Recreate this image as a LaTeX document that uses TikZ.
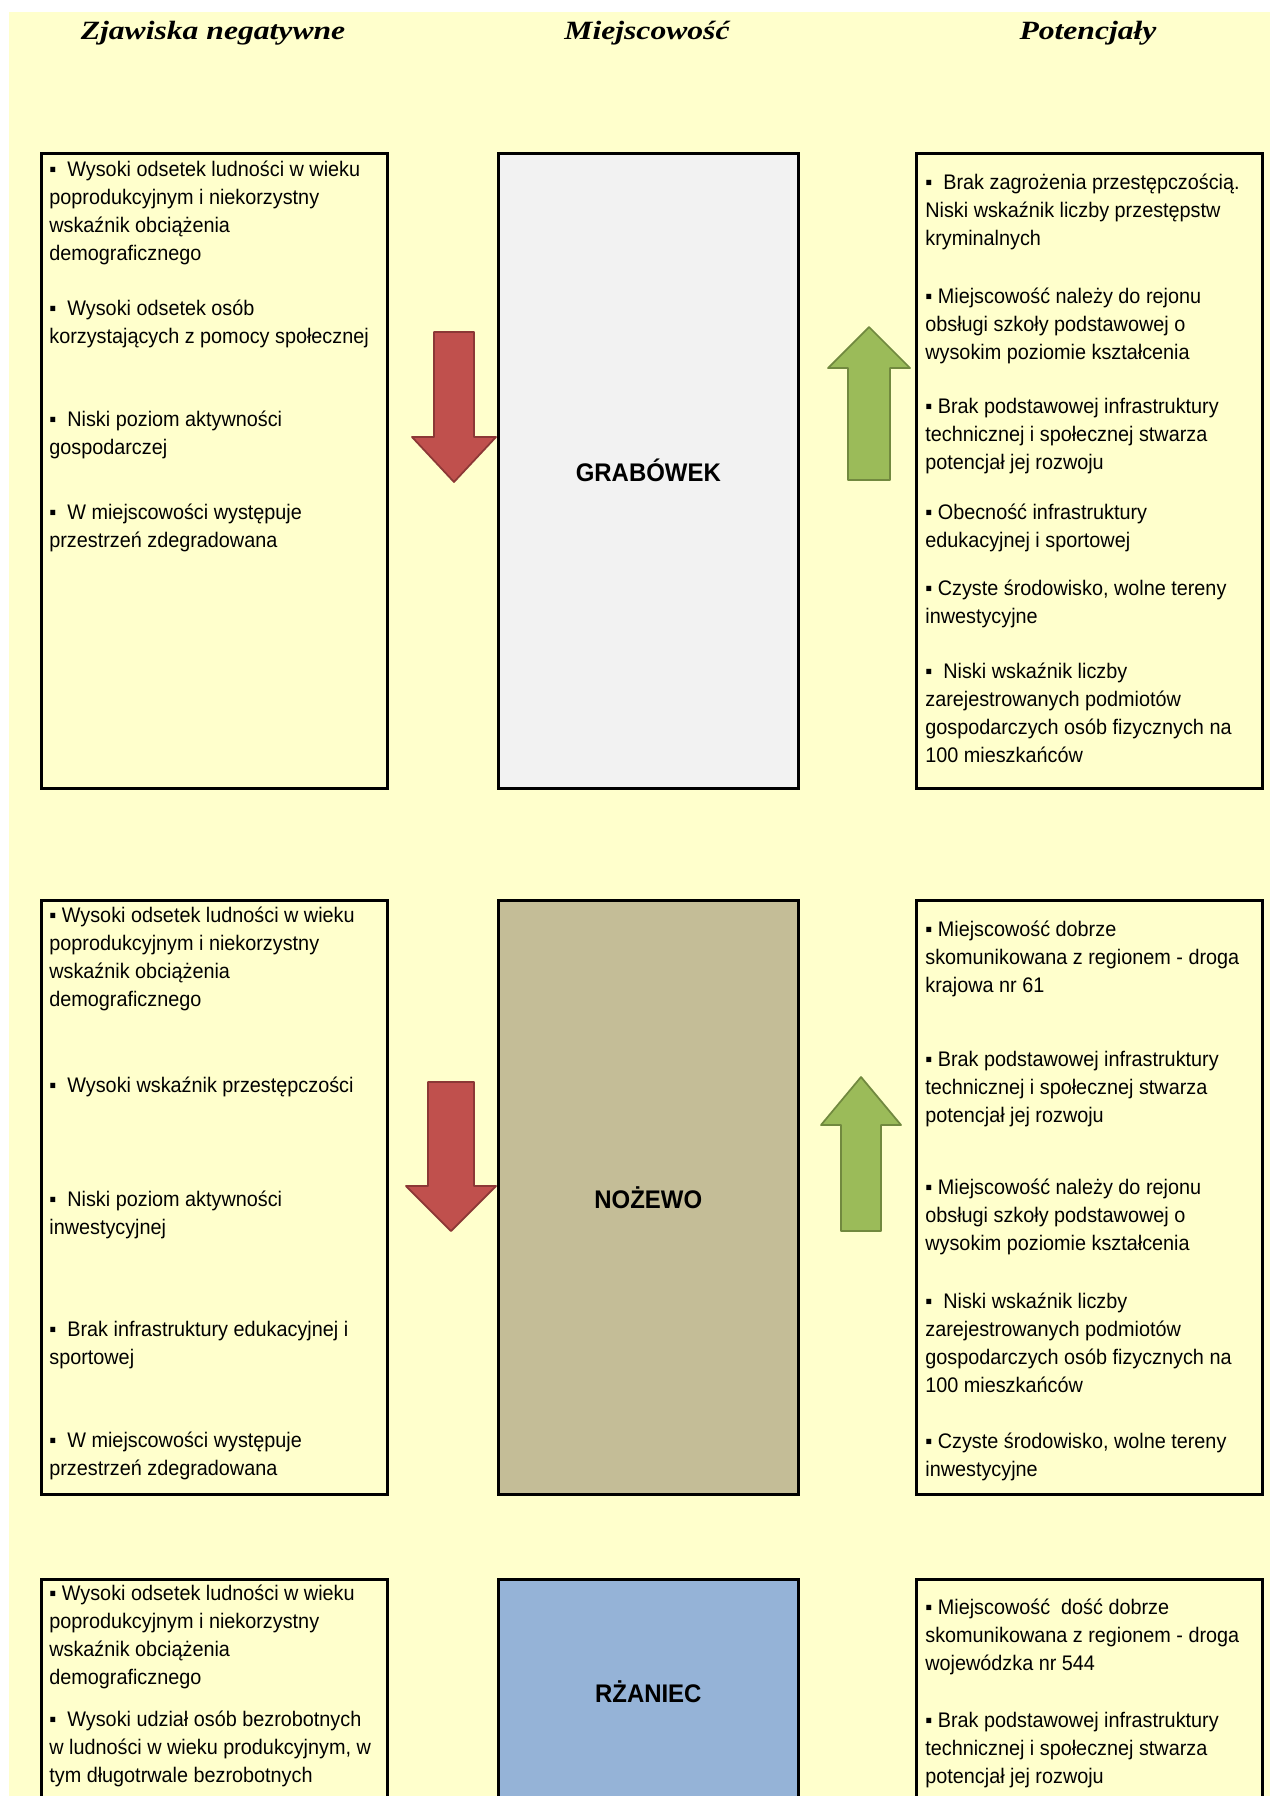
\documentclass[tikz,border=0pt]{standalone}
\usepackage{fontspec}
\setmainfont{Liberation Sans}[FakeStretch=0.94]
\newfontfamily\headfont{Liberation Serif}[FakeStretch=1.2]

\definecolor{paper}{HTML}{FFFFCC}
\definecolor{grabfill}{HTML}{F2F2F2}
\definecolor{nozfill}{HTML}{C4BD97}
\definecolor{rzafill}{HTML}{95B3D7}
\definecolor{redarr}{HTML}{C0504D}
\definecolor{redline}{HTML}{8C3836}
\definecolor{greenarr}{HTML}{9BBB59}
\definecolor{greenline}{HTML}{71893F}

\begin{document}
\begin{tikzpicture}[x=0.02cm,y=-0.02cm,
    box/.style={draw,line width=1.5pt,anchor=north west,minimum width=6.92cm,inner sep=0pt,fill=paper},
    town/.style={box,minimum width=6cm,font=\fontsize{14.5}{16}\selectfont\bfseries},
    txt/.style={anchor=north west,align=left,inner sep=0pt,font=\fontsize{12}{15.9}\selectfont},
    head/.style={font=\headfont\fontsize{15}{18}\selectfont\bfseries\itshape},
    down/.style={fill=redarr,draw=redline,line width=1pt,line join=round},
    up/.style={fill=greenarr,draw=greenline,line width=1pt,line join=round}]
  \useasboundingbox (0,0) rectangle (1270,1796);
  \clip (0,0) rectangle (1270,1796);
  \fill[paper] (9,12) rectangle (1270,1796);

  % column titles
  \node[head] (hneg) at (213,33) {Zjawiska negatywne};
  \node[head] (htown) at (647,33) {Miejscowość};
  \node[head] (hpot) at (1088,33) {Potencjały};

  % row 1
  \node[box,minimum height=12.7cm] (neg1) at (40,152) {};
  \node[town,minimum height=12.7cm,fill=grabfill] (town1) at (497,152) {GRABÓWEK};
  \node[box,minimum height=12.7cm] (pot1) at (915,152) {};

  \node[txt] (z11) at (49,161) {▪\ \ Wysoki odsetek ludności w wieku\\poprodukcyjnym i niekorzystny\\wskaźnik obciążenia\\demograficznego};
  \node[txt] (z12) at (49,300) {▪\ \ Wysoki odsetek osób\\korzystających z pomocy społecznej};
  \node[txt] (z13) at (49,411) {▪\ \ Niski poziom aktywności\\gospodarczej};
  \node[txt] (z14) at (49,504) {▪\ \ W miejscowości występuje\\przestrzeń zdegradowana};

  \node[txt] (p11) at (925,174) {▪\ \ Brak zagrożenia przestępczością.\\Niski wskaźnik liczby przestępstw\\kryminalnych};
  \node[txt] (p12) at (925,288) {▪ Miejscowość należy do rejonu\\obsługi szkoły podstawowej o\\wysokim poziomie kształcenia};
  \node[txt] (p13) at (925,398) {▪ Brak podstawowej infrastruktury\\technicznej i społecznej stwarza\\potencjał jej rozwoju};
  \node[txt] (p14) at (925,504) {▪ Obecność infrastruktury\\edukacyjnej i sportowej};
  \node[txt] (p15) at (925,580) {▪ Czyste środowisko, wolne tereny\\inwestycyjne};
  \node[txt] (p16) at (925,663) {▪\ \ Niski wskaźnik liczby\\zarejestrowanych podmiotów\\gospodarczych osób fizycznych na\\100 mieszkańców};

  \draw[down] (434,332) -- (474,332) -- (474,437) -- (496,437) -- (454,482) -- (412,437) -- (434,437) -- cycle;
  \draw[up] (848,480) -- (890,480) -- (890,368) -- (910,368) -- (869,327) -- (828,368) -- (848,368) -- cycle;

  % row 2
  \node[box,minimum height=11.88cm] (neg2) at (40,899) {};
  \node[town,minimum height=11.88cm,fill=nozfill] (town2) at (497,899) {NOŻEWO};
  \node[box,minimum height=11.88cm] (pot2) at (915,899) {};

  \node[txt] (z21) at (49,907) {▪ Wysoki odsetek ludności w wieku\\poprodukcyjnym i niekorzystny\\wskaźnik obciążenia\\demograficznego};
  \node[txt] (z22) at (49,1077) {▪\ \ Wysoki wskaźnik przestępczości};
  \node[txt] (z23) at (49,1191) {▪\ \ Niski poziom aktywności\\inwestycyjnej};
  \node[txt] (z24) at (49,1321) {▪\ \ Brak infrastruktury edukacyjnej i\\sportowej};
  \node[txt] (z25) at (49,1432) {▪\ \ W miejscowości występuje\\przestrzeń zdegradowana};

  \node[txt] (p21) at (925,921) {▪ Miejscowość dobrze\\skomunikowana z regionem - droga\\krajowa nr 61};
  \node[txt] (p22) at (925,1051) {▪ Brak podstawowej infrastruktury\\technicznej i społecznej stwarza\\potencjał jej rozwoju};
  \node[txt] (p23) at (925,1179) {▪ Miejscowość należy do rejonu\\obsługi szkoły podstawowej o\\wysokim poziomie kształcenia};
  \node[txt] (p24) at (925,1293) {▪\ \ Niski wskaźnik liczby\\zarejestrowanych podmiotów\\gospodarczych osób fizycznych na\\100 mieszkańców};
  \node[txt] (p25) at (925,1433) {▪ Czyste środowisko, wolne tereny\\inwestycyjne};

  \draw[down] (428,1082) -- (474,1082) -- (474,1186) -- (496,1186) -- (451,1231) -- (406,1186) -- (428,1186) -- cycle;
  \draw[up] (841,1231) -- (881,1231) -- (881,1125) -- (901,1125) -- (861,1077) -- (821,1125) -- (841,1125) -- cycle;

  % row 3
  \node[box,minimum height=4.48cm] (neg3) at (40,1578) {};
  \node[town,minimum height=4.48cm,fill=rzafill] (town3) at (497,1578) {RŻANIEC};
  \node[box,minimum height=4.48cm] (pot3) at (915,1578) {};

  \node[txt] (z31) at (49,1585) {▪ Wysoki odsetek ludności w wieku\\poprodukcyjnym i niekorzystny\\wskaźnik obciążenia\\demograficznego};
  \node[txt] (z32) at (49,1711) {▪\ \ Wysoki udział osób bezrobotnych\\w ludności w wieku produkcyjnym, w\\tym długotrwale bezrobotnych};

  \node[txt] (p31) at (925,1599) {▪ Miejscowość\ \ dość dobrze\\skomunikowana z regionem - droga\\wojewódzka nr 544};
  \node[txt] (p32) at (925,1712) {▪ Brak podstawowej infrastruktury\\technicznej i społecznej stwarza\\potencjał jej rozwoju};
\end{tikzpicture}
\end{document}
